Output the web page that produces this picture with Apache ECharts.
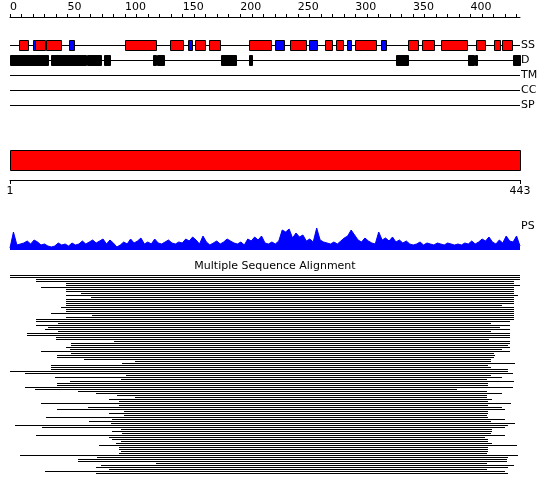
<!DOCTYPE html>
<html>
<head>
<meta charset="utf-8">
<script src="https://cdn.jsdelivr.net/npm/echarts@6/dist/echarts.min.js"></script>
<style>html,body{margin:0;padding:0;background:#fff}#c{width:550px;height:495px}</style>
</head>
<body>
<div id="c"></div>
<script>
const seqLength = 443;
const rulerTicks = [0,10,20,30,40,50,60,70,80,90,100,110,120,130,140,150,160,170,180,190,200,210,220,230,240,250,260,270,280,290,300,310,320,330,340,350,360,370,380,390,400,410,420,430,440];
const rulerLabels = [0,50,100,150,200,250,300,350,400];
const seqLabels = [1,443];
const trackNames = ['SS','D','TM','CC','SP'];
const ssHelix = [[8,16],[22,30],[31,44],[100,127],[139,150],[161,169],[173,182],[208,227],[243,257],[274,280],[283,289],[300,318],[346,354],[358,368],[374,397],[405,413],[420,426],[427,436]];
const ssStrand = [[20,22],[51,56],[155,158],[230,238],[260,267],[293,296],[322,327]];
const disorder = [[0,33],[36,66],[67,79],[82,87],[124,127],[128,134],[183,196],[208,210],[335,346],[398,403],[404,406],[437,443]];
const psValues = [2,18,5,6,7,9,6,10,8,5, 6,4,3,4,7,5,6,4,7,5, 6,9,6,8,10,7,9,11,6,10, 7,3,5,8,6,11,7,9,12,6, 8,6,11,7,6,8,10,7,6,8, 7,11,9,13,10,6,14,8,5,7, 9,6,8,11,9,7,6,8,5,11, 9,13,10,14,7,6,8,6,9,20, 18,21,12,17,13,15,9,11,8,22, 10,8,7,6,8,6,9,12,14,20, 15,10,8,12,9,7,6,18,10,12, 9,13,8,10,7,9,6,5,6,8, 5,7,6,5,7,6,5,7,6,5, 6,5,7,6,9,6,8,11,9,13, 8,6,10,7,14,9,8,14,4];
const msaStart = [
1,1,24,24,50,50,28,50,50,63,
50,71,50,50,50,50,45,50,50,37,
72,50,24,24,43,24,34,31,43,16,
16,41,41,91,54,54,50,53,28,54,
42,42,65,110,98,37,37,37,1,14,
102,40,97,53,42,42,14,23,60,76,
94,110,87,96,28,96,69,42,100,87,
100,32,90,70,89,5,29,97,90,98,
24,87,90,97,93,78,96,96,97,96,
10,77,60,60,128,80,76,87,31,76];
const msaEnd = [
443,443,443,438,438,443,438,438,438,438,
441,438,438,438,438,427,438,438,438,438,
438,438,438,434,418,434,426,434,418,434,
434,434,416,434,434,433,434,427,434,420,
421,420,418,418,439,415,418,433,433,437,
418,427,414,438,415,415,437,388,414,427,
414,414,419,415,435,415,427,430,415,415,
414,415,430,418,439,433,430,419,419,418,
430,413,415,415,419,440,415,415,415,414,
441,433,432,432,414,438,433,414,430,433];

const FONT = 'DejaVu Sans';
const crisp = v => Math.round(v) + 0.5;
const rowIds = msaStart.map((_, i) => i);

function boxRender(fill) {
  return function (params, api) {
    const p1 = api.coord([api.value(0), api.value(2)]);
    const p2 = api.coord([api.value(1), api.value(2)]);
    const x1 = crisp(p1[0]), x2 = crisp(p2[0]);
    const y1 = Math.round(p1[1] - 5) + 0.5;
    return {type: 'rect', shape: {x: x1, y: y1, width: Math.max(x2 - x1, 1), height: 10},
      style: {fill: fill, stroke: '#000', lineWidth: 1}};
  };
}

const chart = echarts.init(document.getElementById('c'), null, {renderer: 'canvas'});
const baseGrid = {left: 10, right: 30};
const hiddenX = (gi, mn) => ({gridIndex: gi, type: 'value', min: mn, max: seqLength, show: false});
const hiddenY = (gi) => ({gridIndex: gi, type: 'value', min: 0, max: 1, show: false});

const option = {
  animation: false,
  backgroundColor: '#fff',
  textStyle: {fontFamily: FONT},
  grid: [
    Object.assign({top: 16, height: 1}, baseGrid),
    Object.assign({top: 37.5, height: 75}, baseGrid),
    Object.assign({top: 150, height: 20}, baseGrid),
    Object.assign({top: 179, height: 1}, baseGrid),
    Object.assign({top: 228, height: 22}, baseGrid),
    Object.assign({top: 275, height: 200}, baseGrid)
  ],
  xAxis: [
    {gridIndex: 0, type: 'value', position: 'top', min: 0, max: seqLength,
      axisLine: {show: true, lineStyle: {color: '#000', width: 1}},
      axisTick: {show: true, length: 3, customValues: rulerTicks, lineStyle: {color: '#000'}},
      axisLabel: {show: true, customValues: rulerLabels, align: 'left', margin: 3, color: '#000', fontSize: 11, fontFamily: FONT},
      splitLine: {show: false}},
    hiddenX(1, 0),
    hiddenX(2, 1),
    {gridIndex: 3, type: 'value', position: 'bottom', min: 1, max: seqLength,
      axisLine: {show: true, lineStyle: {color: '#000', width: 1}},
      axisTick: {show: true, length: 4, customValues: seqLabels, lineStyle: {color: '#000'}},
      axisLabel: {show: true, customValues: seqLabels, margin: 6, color: '#000', fontSize: 11, fontFamily: FONT},
      splitLine: {show: false}},
    hiddenX(4, 0),
    hiddenX(5, 0)
  ],
  yAxis: [
    hiddenY(0),
    {gridIndex: 1, type: 'category', data: trackNames, inverse: true, position: 'right',
      axisLine: {show: false}, axisTick: {show: false}, splitLine: {show: false},
      axisLabel: {show: true, margin: 1, align: 'left', color: '#000', fontSize: 11, fontFamily: FONT}},
    hiddenY(2),
    hiddenY(3),
    {gridIndex: 4, type: 'value', min: 0, max: 22, show: false},
    {gridIndex: 5, type: 'category', data: rowIds, inverse: true, show: false}
  ],
  graphic: [
    {type: 'text', x: 521, y: 226, style: {text: 'PS', fill: '#000', fontSize: 11, fontFamily: FONT, align: 'left', verticalAlign: 'middle'}},
    {type: 'text', x: 275, y: 266, style: {text: 'Multiple Sequence Alignment', fill: '#000', fontSize: 11, fontFamily: FONT, align: 'center', verticalAlign: 'middle'}}
  ],
  series: [
    {type: 'custom', xAxisIndex: 1, yAxisIndex: 1, encode: {x: [0, 1], y: 2},
      data: trackNames.map(n => [0, seqLength, n]),
      renderItem: function (params, api) {
        const p1 = api.coord([api.value(0), api.value(2)]);
        const p2 = api.coord([api.value(1), api.value(2)]);
        const y = crisp(p1[1] - 0.5);
        return {type: 'line', shape: {x1: p1[0], y1: y, x2: p2[0], y2: y}, style: {stroke: '#000', lineWidth: 1}};
      }},
    {type: 'custom', xAxisIndex: 1, yAxisIndex: 1, encode: {x: [0, 1], y: 2}, z: 3,
      data: ssHelix.map(d => [d[0], d[1], 'SS']), renderItem: boxRender('#ff0000')},
    {type: 'custom', xAxisIndex: 1, yAxisIndex: 1, encode: {x: [0, 1], y: 2}, z: 3,
      data: ssStrand.map(d => [d[0], d[1], 'SS']), renderItem: boxRender('#0000ff')},
    {type: 'custom', xAxisIndex: 1, yAxisIndex: 1, encode: {x: [0, 1], y: 2}, z: 3,
      data: disorder.map(d => [d[0], d[1], 'D']), renderItem: boxRender('#000000')},
    {type: 'custom', xAxisIndex: 2, yAxisIndex: 2, encode: {x: [0, 1]},
      data: [[1, seqLength]],
      renderItem: function (params, api) {
        const cs = params.coordSys;
        const x1 = crisp(api.coord([api.value(0), 0])[0]);
        const x2 = crisp(api.coord([api.value(1), 0])[0]);
        return {type: 'rect', shape: {x: x1, y: crisp(cs.y), width: x2 - x1, height: Math.round(cs.height)},
          style: {fill: '#ff0000', stroke: '#000', lineWidth: 1}};
      }},
    {type: 'line', xAxisIndex: 4, yAxisIndex: 4, symbol: 'none', silent: true,
      data: psValues.map((v, i) => [i * seqLength / (psValues.length - 1), v]),
      lineStyle: {color: '#0000ff', width: 1},
      areaStyle: {color: '#0000ff', opacity: 1}},
    {type: 'custom', xAxisIndex: 5, yAxisIndex: 5, encode: {x: [0, 1], y: 2},
      data: msaStart.map((s, i) => [s - 1, msaEnd[i], i]),
      renderItem: function (params, api) {
        const p1 = api.coord([api.value(0), api.value(2)]);
        const p2 = api.coord([api.value(1), api.value(2)]);
        const band = api.size([0, 1])[1];
        const x1 = Math.round(p1[0]), x2 = Math.round(p2[0]);
        return {type: 'rect', shape: {x: x1, y: Math.round(p1[1] - band / 2), width: x2 - x1, height: 1},
          style: {fill: '#000'}};
      }}
  ]
};
chart.setOption(option);
</script>
</body>
</html>
